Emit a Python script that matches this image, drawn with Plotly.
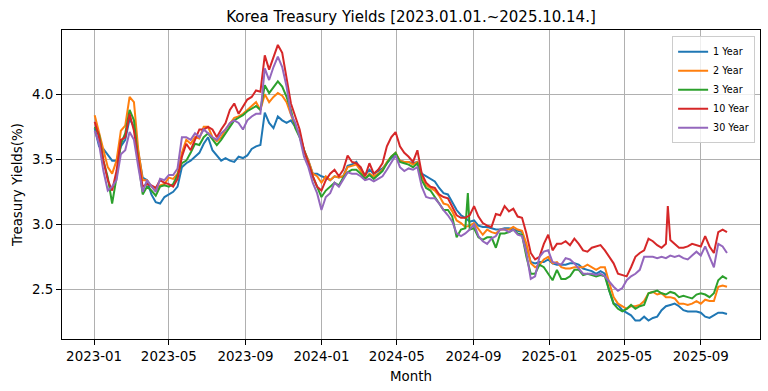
import pandas as pd
import plotly.graph_objects as go

dates = pd.date_range("2023-01-02", periods=146, freq="7D")

y1 = [3.74,3.60,3.58,3.53,3.49,3.49,3.60,3.65,3.81,3.75,
      3.54,3.36,3.34,3.23,3.17,3.16,3.21,3.23,3.25,3.29,
      3.44,3.47,3.49,3.52,3.55,3.62,3.67,3.57,3.53,3.49,
      3.51,3.49,3.48,3.52,3.51,3.53,3.58,3.60,3.61,3.86,
      3.78,3.74,3.83,3.80,3.78,3.80,3.75,3.70,3.57,3.49,
      3.39,3.39,3.37,3.36,3.34,3.37,3.36,3.37,3.45,3.46,
      3.48,3.42,3.38,3.42,3.39,3.41,3.43,3.47,3.51,3.53,
      3.49,3.48,3.48,3.47,3.48,3.39,3.37,3.35,3.33,3.28,
      3.24,3.23,3.17,3.11,3.07,3.05,3.02,3.03,2.99,2.98,
      2.98,2.97,2.96,2.96,2.97,2.97,2.96,2.95,2.94,2.83,
      2.71,2.70,2.71,2.71,2.73,2.70,2.69,2.69,2.69,2.70,
      2.70,2.69,2.66,2.65,2.64,2.62,2.64,2.62,2.49,2.39,
      2.38,2.34,2.32,2.30,2.26,2.26,2.29,2.26,2.28,2.29,
      2.34,2.37,2.38,2.39,2.37,2.34,2.33,2.33,2.33,2.32,
      2.29,2.28,2.30,2.32,2.32,2.31]

y2 = [3.84,3.71,3.57,3.44,3.39,3.49,3.72,3.76,3.98,3.94,
      3.57,3.34,3.34,3.29,3.26,3.30,3.31,3.36,3.35,3.39,
      3.55,3.65,3.62,3.67,3.66,3.75,3.75,3.67,3.64,3.67,
      3.73,3.78,3.82,3.83,3.85,3.88,3.91,3.94,3.88,4.00,
      3.94,3.98,4.01,3.99,3.94,3.85,3.75,3.70,3.57,3.49,
      3.39,3.37,3.32,3.37,3.34,3.37,3.36,3.37,3.44,3.45,
      3.46,3.41,3.35,3.39,3.37,3.39,3.42,3.48,3.52,3.55,
      3.49,3.48,3.48,3.46,3.48,3.37,3.30,3.28,3.26,3.22,
      3.16,3.15,3.10,3.03,3.01,2.98,2.99,3.01,2.96,2.92,
      2.96,2.94,2.93,2.96,2.96,2.96,2.98,2.96,2.95,2.85,
      2.70,2.67,2.69,2.73,2.75,2.70,2.71,2.67,2.66,2.66,
      2.67,2.67,2.67,2.69,2.67,2.65,2.67,2.67,2.55,2.44,
      2.39,2.37,2.35,2.37,2.37,2.38,2.41,2.47,2.48,2.46,
      2.47,2.44,2.44,2.43,2.39,2.39,2.38,2.39,2.41,2.39,
      2.42,2.41,2.41,2.52,2.53,2.52]

y3 = [3.75,3.69,3.49,3.36,3.16,3.36,3.62,3.70,3.88,3.80,
      3.49,3.23,3.29,3.26,3.22,3.29,3.30,3.29,3.31,3.38,
      3.47,3.49,3.55,3.62,3.61,3.67,3.70,3.65,3.61,3.65,
      3.70,3.75,3.80,3.82,3.84,3.87,3.89,3.91,3.88,4.07,
      4.01,4.06,4.10,4.06,3.98,3.88,3.74,3.67,3.57,3.47,
      3.37,3.29,3.21,3.26,3.29,3.32,3.30,3.36,3.40,3.42,
      3.42,3.39,3.35,3.38,3.35,3.38,3.41,3.47,3.52,3.55,
      3.48,3.47,3.46,3.44,3.47,3.34,3.28,3.26,3.21,3.17,
      3.11,3.11,3.06,2.90,2.96,2.97,2.96,2.97,2.90,2.88,
      2.90,2.90,2.82,2.93,2.93,2.94,2.96,2.93,2.92,2.75,
      2.62,2.62,2.69,2.67,2.62,2.57,2.65,2.58,2.58,2.60,
      2.65,2.65,2.61,2.62,2.61,2.60,2.61,2.60,2.49,2.39,
      2.35,2.33,2.35,2.38,2.35,2.37,2.38,2.47,2.48,2.49,
      2.47,2.46,2.48,2.47,2.44,2.45,2.44,2.43,2.46,2.47,
      2.46,2.44,2.47,2.57,2.60,2.58]

y10 = [3.79,3.67,3.49,3.34,3.26,3.41,3.65,3.67,3.85,3.72,
       3.49,3.29,3.31,3.30,3.28,3.34,3.32,3.31,3.29,3.35,
       3.52,3.62,3.57,3.65,3.73,3.73,3.75,3.73,3.67,3.73,
       3.78,3.88,3.93,3.85,3.91,3.96,3.98,4.03,4.02,4.30,
       4.19,4.29,4.38,4.32,4.11,3.93,3.83,3.73,3.57,3.47,
       3.37,3.29,3.26,3.34,3.39,3.42,3.37,3.42,3.53,3.48,
       3.47,3.44,3.37,3.47,3.39,3.42,3.47,3.60,3.67,3.71,
       3.60,3.55,3.52,3.48,3.57,3.39,3.32,3.29,3.28,3.23,
       3.21,3.20,3.14,3.07,3.05,3.05,3.07,3.14,3.06,3.01,
       2.99,2.98,3.08,3.07,3.14,3.10,3.12,3.06,3.05,2.93,
       2.78,2.73,2.75,2.85,2.92,2.80,2.85,2.85,2.87,2.84,
       2.89,2.85,2.80,2.79,2.82,2.83,2.84,2.80,2.75,2.70,
       2.62,2.61,2.60,2.67,2.75,2.78,2.80,2.89,2.87,2.84,
       2.82,2.85,2.88,2.85,2.82,2.82,2.83,2.85,2.84,2.83,
       2.91,2.83,2.78,2.94,2.96,2.94]

y30 = [3.72,3.62,3.41,3.26,3.29,3.34,3.54,3.57,3.71,3.65,
       3.44,3.25,3.34,3.29,3.25,3.35,3.34,3.38,3.38,3.43,
       3.67,3.67,3.65,3.70,3.67,3.73,3.70,3.67,3.65,3.70,
       3.73,3.78,3.80,3.78,3.73,3.80,3.83,3.85,3.85,4.20,
       4.11,4.21,4.29,4.21,4.06,3.85,3.78,3.67,3.52,3.44,
       3.32,3.24,3.11,3.21,3.24,3.32,3.29,3.34,3.40,3.39,
       3.39,3.37,3.34,3.35,3.33,3.35,3.37,3.42,3.48,3.53,
       3.44,3.41,3.43,3.42,3.44,3.29,3.21,3.20,3.20,3.16,
       3.11,3.07,3.02,2.93,2.91,2.93,2.96,3.00,2.91,2.87,
       2.85,2.89,2.91,2.96,2.96,2.94,2.96,2.92,2.91,2.78,
       2.58,2.60,2.75,2.79,2.80,2.71,2.70,2.69,2.74,2.73,
       2.70,2.66,2.62,2.62,2.62,2.61,2.62,2.60,2.56,2.52,
       2.49,2.51,2.57,2.60,2.62,2.65,2.75,2.75,2.75,2.74,
       2.75,2.74,2.76,2.75,2.76,2.74,2.73,2.76,2.79,2.76,
       2.83,2.75,2.67,2.85,2.83,2.78]

# short single-day spikes visible in the chart
spike_dates = ["2024-08-23", "2025-07-10"]
spike_series = ["3 Year", "10 Year"]
spike_values = [3.24, 3.14]

series_names = ["1 Year", "2 Year", "3 Year", "10 Year", "30 Year"]
series_values = [y1, y2, y3, y10, y30]
colors = ["#1f77b4", "#ff7f0e", "#2ca02c", "#d62728", "#9467bd"]

title_text = "Korea Treasury Yields [2023.01.01.~2025.10.14.]"
x_label = "Month"
y_label = "Treasury Yields(%)"

FONT = "DejaVu Sans"

fig = go.Figure()
for name, vals, col in zip(series_names, series_values, colors):
    df = pd.DataFrame({"date": dates, "v": vals})
    extra = [(pd.Timestamp(d), v) for d, s, v in zip(spike_dates, spike_series, spike_values) if s == name]
    if extra:
        df = pd.concat([df, pd.DataFrame(extra, columns=["date", "v"])]).sort_values("date")
    fig.add_trace(go.Scatter(x=df["date"], y=df["v"], mode="lines", name=name,
                             line=dict(color=col, width=2)))

axis_common = dict(showline=True, linecolor="black", linewidth=1, mirror=True,
                   ticks="outside", ticklen=5, tickcolor="black", tickwidth=1,
                   showgrid=True, gridcolor="#b0b0b0", gridwidth=1, zeroline=False,
                   automargin=False,
                   tickfont=dict(family=FONT, size=13.4, color="black"))

fig.update_xaxes(range=["2022-11-10 12:00", "2025-12-05"], tickformat="%Y-%m",
                 tick0="2023-01-01", dtick="M4",
                 title=dict(text=x_label, font=dict(family=FONT, size=13.4, color="black"), standoff=8),
                 **axis_common)
fig.update_yaxes(range=[2.118, 4.495], tickvals=[2.5, 3.0, 3.5, 4.0], tickformat=".1f",
                 title=dict(text=y_label, font=dict(family=FONT, size=13.4, color="black"), standoff=6),
                 **axis_common)

fig.update_layout(
    width=768, height=391,
    margin=dict(l=62, r=8, t=30, b=52),
    paper_bgcolor="white", plot_bgcolor="white",
    font=dict(family=FONT, color="black"),
    title=dict(text=title_text, x=0.5, xref="paper", y=1 - 17 / 391, yref="container",
               xanchor="center", yanchor="middle",
               font=dict(family=FONT, size=15, color="black")),
    legend=dict(x=0.993, y=0.98, xanchor="right", yanchor="top",
                bgcolor="rgba(255,255,255,0.8)", bordercolor="#cccccc", borderwidth=1,
                font=dict(family=FONT, size=9.6, color="black"),
                tracegroupgap=0, itemwidth=30),
    showlegend=True,
)

fig.write_html("out.html", config={"displayModeBar": False},
               post_script="document.body.style.margin='0';document.body.style.overflow='hidden';")
